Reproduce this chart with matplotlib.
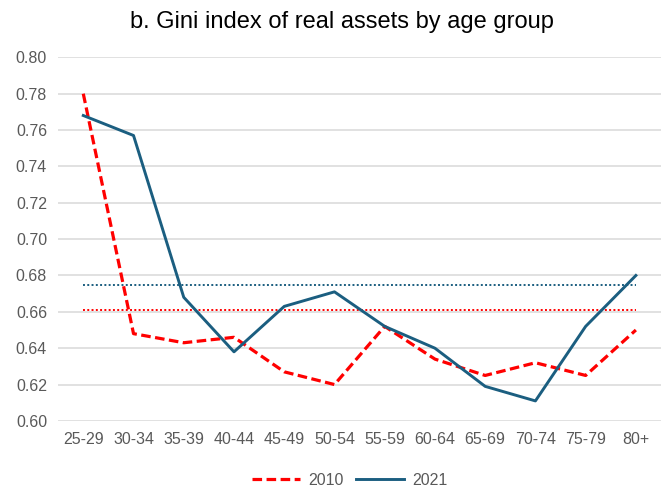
import matplotlib
matplotlib.use("Agg")
import matplotlib.pyplot as plt

# data
age_groups = ["25-29", "30-34", "35-39", "40-44", "45-49", "50-54",
              "55-59", "60-64", "65-69", "70-74", "75-79", "80+"]
gini_2010 = [0.780, 0.648, 0.643, 0.646, 0.627, 0.620,
             0.652, 0.634, 0.625, 0.632, 0.625, 0.650]
gini_2021 = [0.768, 0.757, 0.668, 0.638, 0.663, 0.671,
             0.652, 0.640, 0.619, 0.611, 0.652, 0.680]
avg_2010 = 0.661
avg_2021 = 0.675
yticks = [0.60, 0.62, 0.64, 0.66, 0.68, 0.70, 0.72, 0.74, 0.76, 0.78, 0.80]

RED = "#FF0000"
BLUE = "#1B5E80"
GRAY = "#595959"

plt.rcParams["font.family"] = ["Liberation Sans", "DejaVu Sans"]

fig = plt.figure(figsize=(6.61, 4.90), dpi=100)
ax = fig.add_axes([0.088, 0.141, 0.912, 0.742])

x = list(range(len(age_groups)))
l1, = ax.plot(x, gini_2010, color=RED, lw=2.3, label="2010", zorder=4)
l1.set_dashes((3.0, 1.4))
ax.plot(x, gini_2021, color=BLUE, lw=2.1, label="2021", zorder=5)

# dotted lines: averages over all age groups
ax.plot([x[0], x[-1]], [avg_2010, avg_2010], color=RED, lw=1.4,
        linestyle=(0, (1, 1.2)), zorder=3)
ax.plot([x[0], x[-1]], [avg_2021, avg_2021], color=BLUE, lw=1.4,
        linestyle=(0, (1, 1.2)), zorder=3)

ax.set_xlim(-0.5, len(age_groups) - 0.5)
ax.set_ylim(0.60, 0.80)
ax.set_yticks(yticks)
ax.set_yticklabels([f"{v:.2f}" for v in yticks])
ax.set_xticks(x)
ax.set_xticklabels(age_groups)
ax.tick_params(length=0, labelsize=11.5, colors=GRAY, pad=8)
ax.grid(axis="y", color="#D9D9D9", lw=1.1)
ax.set_axisbelow(True)
for s in ax.spines.values():
    s.set_visible(False)

fig.suptitle("b. Gini index of real assets by age group", x=0.517, y=0.978,
             fontsize=17, color="#000000")

fig.legend(loc="lower center", ncol=2, frameon=False, fontsize=11.5,
           handlelength=3.0, handletextpad=0.5, columnspacing=0.8,
           bbox_to_anchor=(0.529, -0.025), labelcolor=GRAY)

fig.savefig("out.png", dpi=100, facecolor="white")
